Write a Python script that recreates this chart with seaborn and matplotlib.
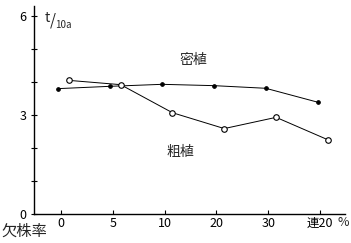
import matplotlib
matplotlib.use("Agg")
import matplotlib.pyplot as plt
import seaborn as sns
import numpy as np
import pandas as pd

categories = ["0", "5", "10", "20", "30", "連20"]
dense_values = [3.80, 3.87, 3.93, 3.89, 3.81, 3.39]   # 密植
sparse_values = [4.05, 3.92, 3.07, 2.59, 2.93, 2.25]  # 粗植
yticks = [0, 1, 2, 3, 4, 5, 6]
ytick_labels = ["0", "", "", "3", "", "", "6"]

sns.set_theme(style="white")
plt.rcParams['font.family'] = ['Noto Sans CJK JP', 'DejaVu Sans']

pos = np.arange(len(categories))
df = pd.DataFrame({
    "x": np.concatenate([pos - 0.05, pos + 0.15]),
    "y": dense_values + sparse_values,
    "series": ["密植"] * len(categories) + ["粗植"] * len(categories),
})

fig = plt.figure(figsize=(3.51, 2.43), dpi=100)
ax = fig.add_axes([0.097, 0.119, 0.886, 0.856])

d = df[df.series == "密植"]
s = df[df.series == "粗植"]
sns.lineplot(data=d, x="x", y="y", ax=ax, color="black", linewidth=0.7,
             marker="o", markersize=2.6, markerfacecolor="black",
             markeredgecolor="black", legend=False)
sns.lineplot(data=s, x="x", y="y", ax=ax, color="black", linewidth=0.7,
             marker="o", markersize=4, markerfacecolor="white",
             markeredgecolor="black", markeredgewidth=0.8, legend=False)

ax.set_xlim(-0.52, 5.48)
ax.set_ylim(0, 6.3)
ax.set_xticks(pos)
ax.set_xticklabels(categories, fontsize=9)
ax.set_yticks(yticks)
ax.set_yticklabels(ytick_labels, fontsize=9)
ax.set_xlabel("")
ax.set_ylabel("")
for side in ["top", "right"]:
    ax.spines[side].set_visible(False)
for side in ["left", "bottom"]:
    ax.spines[side].set_color("black")
    ax.spines[side].set_linewidth(1.0)
ax.tick_params(axis="y", left=True, direction="inout", length=5, width=0.8, pad=3, colors="black")
ax.tick_params(axis="x", bottom=True, direction="in", length=3, width=0.8, pad=2, colors="black")

ax.text(0.035, 0.945, "t", transform=ax.transAxes, fontsize=10, ha="left", va="center")
ax.text(0.052, 0.93, "/", transform=ax.transAxes, fontsize=11, ha="left", va="center")
ax.text(0.068, 0.91, "10a", transform=ax.transAxes, fontsize=7, ha="left", va="center")

fig.text(193/351, 1 - 60/243, "密植", fontsize=10, ha="center", va="center")
fig.text(180/351, 1 - 152/243, "粗植", fontsize=10, ha="center", va="center")
fig.text(24/351, 1 - 231/243, "欠株率", fontsize=11, ha="center", va="center")
fig.text(343/351, 1 - 222/243, "%", fontsize=9, ha="center", va="center")

fig.savefig("out.png", dpi=100)
